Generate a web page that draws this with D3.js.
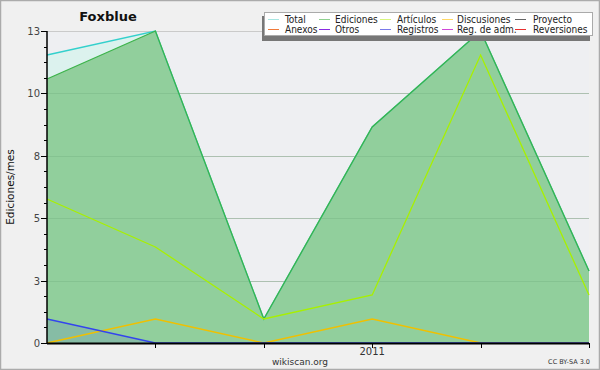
<!DOCTYPE html>
<html><head><meta charset="utf-8">
<script src="https://cdn.jsdelivr.net/npm/d3@7"></script>
<style>body{margin:0;background:#f0f0f0}svg{display:block}</style>
</head><body>
<script>
const months = ["2010-10","2010-11","2010-12","2011-01","2011-02","2011-03"];
const total = [12, 13, 1, 9, 13, 3];
const ediciones = [11, 13, 1, 9, 13, 3];
const articulos = [6, 4, 1, 2, 12, 2];
const discusiones = [0, 1, 0, 1, 0, 0];
const registros = [1, 0, 0, 0, 0, 0];
const yTicks = [0, 2.6, 5.2, 7.8, 10.4, 13];
const legendNames = ["Total","Ediciones","Artículos","Discusiones","Proyecto","Anexos","Otros","Registros","Reg. de adm.","Reversiones"];
const legendColors = ["#a8e6e2","#8fd18f","#d8f57e","#ffd866","#666666","#f07a3a","#8a2be2","#7a7aea","#d048d8","#e83030"];

const W=600,H=370;
const svg=d3.select("body").append("svg").attr("width",W).attr("height",H);
svg.append("rect").attr("x",0.5).attr("y",0.5).attr("width",W-1).attr("height",H-1).attr("fill","#f0f0f0").attr("stroke","#ababab").attr("stroke-width",1.5);

const x=d3.scalePoint().domain(d3.range(months.length)).range([47,589]);
const y=d3.scaleLinear().domain([0,13]).range([343,31]);

svg.append("rect").attr("x",47).attr("y",31).attr("width",542).attr("height",312).attr("fill","#eeeff2");

svg.append("g").selectAll("line").data(yTicks.slice(1)).join("line")
  .attr("x1",47).attr("x2",589).attr("y1",d=>Math.round(y(d))+0.5).attr("y2",d=>Math.round(y(d))+0.5)
  .attr("stroke","#cacaca").attr("stroke-width",1);

const area=(data)=>d3.area().x((d,i)=>x(i)).y0(y(0)).y1(d=>y(d))(data);
const line=(data)=>d3.line().x((d,i)=>x(i)).y(d=>y(d))(data);

svg.append("path").attr("d",area(total)).attr("fill","#dcf2ee");
svg.append("path").attr("d",area(ediciones)).attr("fill","#7ec587").attr("fill-opacity",0.8);
svg.append("path").attr("d",area(registros)).attr("fill","#5a6ad0").attr("fill-opacity",0.18);

svg.append("g").selectAll("line").data(yTicks.slice(1,-1)).join("line")
  .attr("x1",47).attr("x2",589).attr("y1",d=>Math.round(y(d))+0.5).attr("y2",d=>Math.round(y(d))+0.5)
  .attr("stroke","#6aa877").attr("stroke-opacity",0.3).attr("stroke-width",1);

svg.append("path").attr("d",line(total)).attr("fill","none").attr("stroke","#33d0cc").attr("stroke-width",1.3);
svg.append("path").attr("d",line(ediciones)).attr("fill","none").attr("stroke","#3cb34a").attr("stroke-width",1.3);
svg.append("path").attr("d",line(articulos)).attr("fill","none").attr("stroke","#a8f000").attr("stroke-width",1.3);
svg.append("path").attr("d",line(discusiones)).attr("fill","none").attr("stroke","#f0c000").attr("stroke-width",1.3);
svg.append("path").attr("d",line(registros)).attr("fill","none").attr("stroke","#3344ee").attr("stroke-width",1.3);

// y axis
const ya=svg.append("g");
ya.append("line").attr("x1",47).attr("x2",47).attr("y1",31).attr("y2",344).attr("stroke","#000").attr("stroke-width",1.5);
const minor=d3.range(0,13.001,0.65);
ya.selectAll(".mn").data(minor).join("line").attr("x1",44).attr("x2",47).attr("y1",d=>Math.round(y(d))+0.5).attr("y2",d=>Math.round(y(d))+0.5).attr("stroke","#000");
ya.selectAll(".mj").data(yTicks).join("line").attr("x1",41).attr("x2",47).attr("y1",d=>Math.round(y(d))+0.5).attr("y2",d=>Math.round(y(d))+0.5).attr("stroke","#000");
ya.selectAll("text").data(yTicks).join("text").attr("x",40).attr("y",d=>y(d)+4).attr("text-anchor","end")
  .attr("font-family","DejaVu Sans").attr("font-size",10).attr("fill","#444").text(d=>Math.round(d));

// x axis
const xa=svg.append("g");
xa.append("line").attr("x1",47).attr("x2",589).attr("y1",343.5).attr("y2",343.5).attr("stroke","#000").attr("stroke-width",2);
xa.selectAll("line.t").data(d3.range(1,months.length)).join("line").attr("class","t")
  .attr("x1",d=>Math.round(x(d))+0.5).attr("x2",d=>Math.round(x(d))+0.5).attr("y1",343).attr("y2",348).attr("stroke","#000");
xa.selectAll("text").data(months.map((m,i)=>[m,i]).filter(d=>d[0].endsWith("-01"))).join("text")
  .attr("x",d=>x(d[1])).attr("y",355).attr("text-anchor","middle")
  .attr("font-family","DejaVu Sans").attr("font-size",10).attr("fill","#333").text(d=>d[0].slice(0,4));

// titles
svg.append("text").attr("x",108).attr("y",21).attr("text-anchor","middle").attr("font-family","DejaVu Sans").attr("font-weight","bold").attr("font-size",13).attr("fill","#111").text("Foxblue");
svg.append("text").attr("transform","translate(14,187) rotate(-90)").attr("text-anchor","middle").attr("font-family","DejaVu Sans").attr("font-size",10.5).attr("fill","#111").text("Ediciones/mes");
svg.append("text").attr("x",300).attr("y",365).attr("text-anchor","middle").attr("font-family","DejaVu Sans").attr("font-size",9).attr("fill","#333").text("wikiscan.org");
svg.append("text").attr("x",590).attr("y",364).attr("text-anchor","end").attr("font-family","DejaVu Sans").attr("font-size",6.5).attr("fill","#333").text("CC BY-SA 3.0");

// legend
const lg=svg.append("g");
lg.append("rect").attr("x",262).attr("y",16).attr("width",328).attr("height",25).attr("fill","#777");
lg.append("rect").attr("x",264.5).attr("y",12.5).attr("width",328).attr("height",23).attr("fill","#fff").attr("stroke","#aaa");
const colX=[268,319,380,442,515];
const colT=[285,335,397,457,533];
legendNames.forEach((n,i)=>{
  const c=i%5,r=Math.floor(i/5);
  const yy=19.5+r*10;
  lg.append("line").attr("x1",colX[c]).attr("x2",colX[c]+11).attr("y1",yy).attr("y2",yy).attr("stroke",legendColors[i]).attr("stroke-width",1);
  lg.append("text").attr("x",colT[c]).attr("y",yy+3.5).attr("font-family","DejaVu Sans Condensed, DejaVu Sans").attr("font-stretch","condensed").attr("font-size",10).attr("fill","#222").text(n);
});
</script>
</body></html>
